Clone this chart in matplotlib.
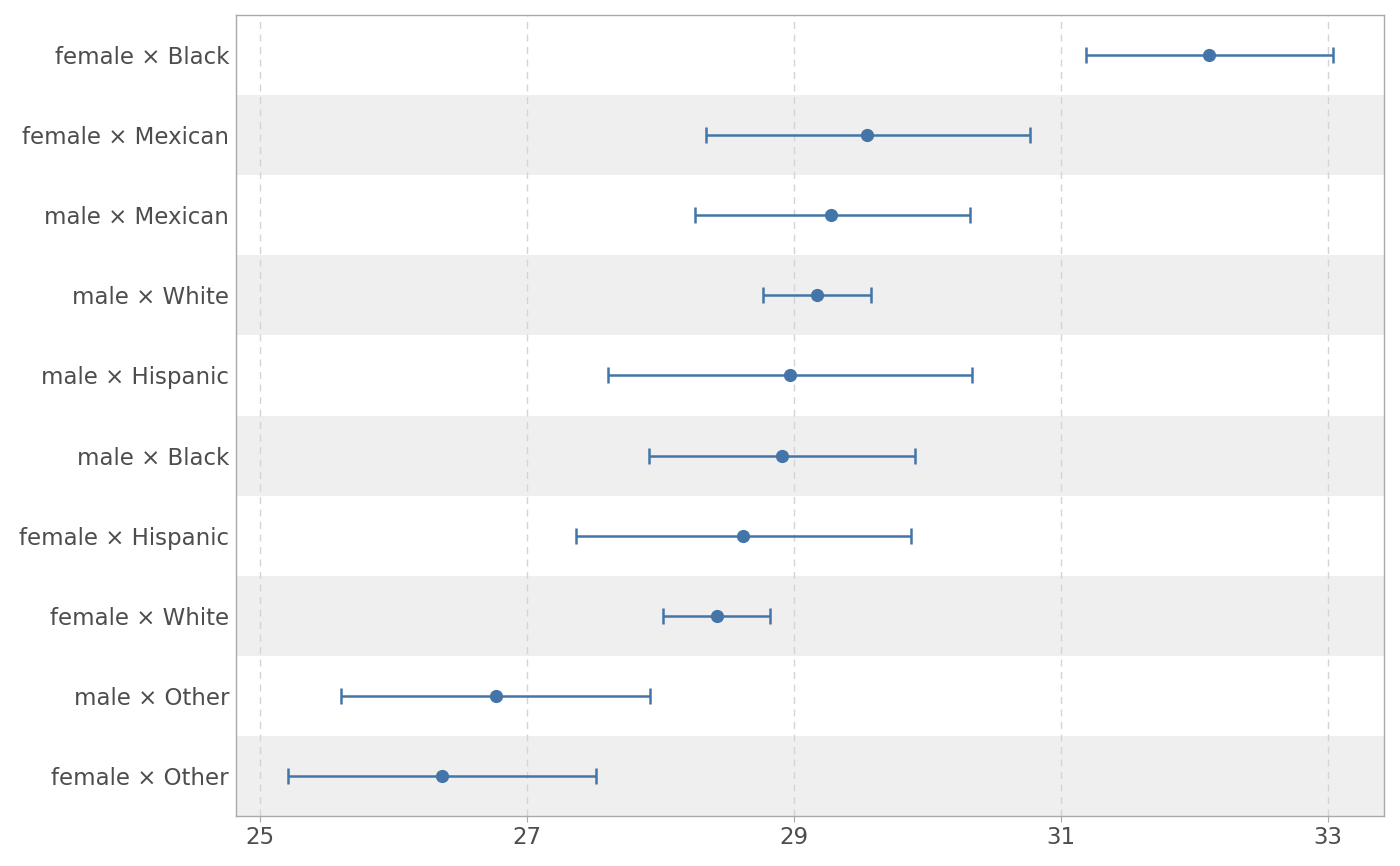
import matplotlib
matplotlib.use("Agg")
import matplotlib.pyplot as plt
import numpy as np

labels = ["female × Black", "female × Mexican", "male × Mexican", "male × White",
          "male × Hispanic", "male × Black", "female × Hispanic", "female × White",
          "male × Other", "female × Other"]
estimate = [32.11, 29.55, 29.28, 29.17, 28.97, 28.91, 28.62, 28.42, 26.77, 26.36]
lower = [31.19, 28.34, 28.26, 28.77, 27.61, 27.91, 27.37, 28.02, 25.61, 25.21]
upper = [33.04, 30.77, 30.32, 29.58, 30.33, 29.91, 29.88, 28.82, 27.92, 27.52]
xticks = [25, 27, 29, 31, 33]

fig = plt.figure(figsize=(14, 8.66), dpi=100)
ax = fig.add_axes([0.1686, 0.0577, 0.82, 0.925])

n = len(labels)
ypos = np.arange(n)[::-1]
est = np.array(estimate)
lo = np.array(lower)
hi = np.array(upper)

for i, y in enumerate(ypos):
    if i % 2 == 1:
        ax.axhspan(y - 0.5, y + 0.5, color="#efefef", zorder=0, lw=0)

for xt in xticks:
    ax.axvline(xt, color="#d4d4d4", lw=1.0, ls=(0, (5, 4)), zorder=1)

ax.errorbar(est, ypos, xerr=[est - lo, hi - est], fmt="o", color="#4475a8",
            ecolor="#4475a8", elinewidth=1.8, capsize=6, capthick=1.8,
            markersize=8.5, zorder=3)

ax.set_ylim(-0.5, n - 0.5)
ax.set_xlim(24.82, 33.42)
ax.set_yticks(ypos)
ax.set_yticklabels(labels)
ax.set_xticks(xticks)
ax.tick_params(axis="y", length=0, labelsize=16.5, labelcolor="#4d4d4d", pad=5)
ax.tick_params(axis="x", length=4, color="#aaaaaa", labelsize=16.5, labelcolor="#4d4d4d", pad=3)
for s in ax.spines.values():
    s.set_color("#aaaaaa")
    s.set_linewidth(1.0)

fig.savefig("out.png", dpi=100)
